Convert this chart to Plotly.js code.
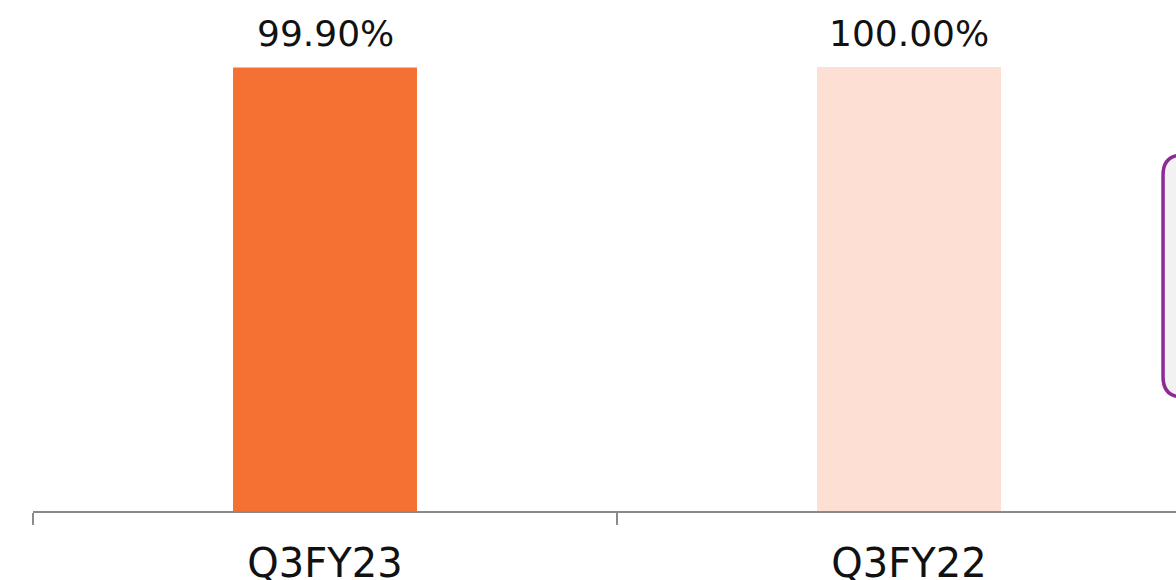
<!DOCTYPE html>
<html>
<head>
<meta charset="utf-8">
<script src="https://cdn.plot.ly/plotly-3.0.1.min.js"></script>
<style>
html,body{margin:0;padding:0;width:1176px;height:580px;overflow:hidden;background:#fff;}
#chart{width:1240px;height:580px;}
</style>
</head>
<body>
<div id="chart"></div>
<script>
var categories = ["Q3FY23", "Q3FY22"];
var values = [99.90, 100.00];
var valueLabels = ["99.90%", "100.00%"];
var barColors = ["#F47133", "#FDDFD3"];

var trace = {
  type: "bar",
  x: categories,
  y: values,
  width: 0.315,
  marker: {color: barColors, line: {width: 0}},
  hoverinfo: "none"
};

var annotations = categories.map(function(c, i){
  return {
    x: c, y: values[i], xref: "x", yref: "y",
    text: valueLabels[i], showarrow: false,
    yanchor: "bottom", yshift: 11,
    font: {family: "DejaVu Sans", size: 36, color: "#111111"}
  };
});

// rounded callout box at right edge (paper coords)
var x0 = 0.9675, x1 = 1.03, yb = 0.2568, yt = 0.8018, rx = 0.0171, ry = 0.045;
var path = "M " + (x0+rx) + "," + yt + " L " + x1 + "," + yt + " L " + x1 + "," + yb +
  " L " + (x0+rx) + "," + yb + " Q " + x0 + "," + yb + " " + x0 + "," + (yb+ry) +
  " L " + x0 + "," + (yt-ry) + " Q " + x0 + "," + yt + " " + (x0+rx) + "," + yt + " Z";

var layout = {
  width: 1240, height: 580,
  margin: {l: 33, r: 39, t: 67, b: 69},
  paper_bgcolor: "#ffffff", plot_bgcolor: "#ffffff",
  showlegend: false,
  bargap: 0.685,
  xaxis: {
    type: "category",
    range: [-0.5, 1.5],
    showline: true, linecolor: "#8a8a8a", linewidth: 1.5,
    ticks: "outside", tickson: "boundaries", ticklen: 12, tickwidth: 1.5, tickcolor: "#8a8a8a",
    ticklabelstandoff: 16,
    showgrid: false, zeroline: false,
    tickfont: {family: "DejaVu Sans", size: 40, color: "#111111"}
  },
  yaxis: {
    range: [0, 100], visible: false, showgrid: false, zeroline: false
  },
  annotations: annotations,
  shapes: [{
    type: "path", xref: "paper", yref: "paper", path: path,
    fillcolor: "#F2F2F2", line: {color: "#8E2A98", width: 3.5}, layer: "above"
  }]
};

Plotly.newPlot("chart", [trace], layout, {staticPlot: true, displayModeBar: false});
</script>
</body>
</html>
